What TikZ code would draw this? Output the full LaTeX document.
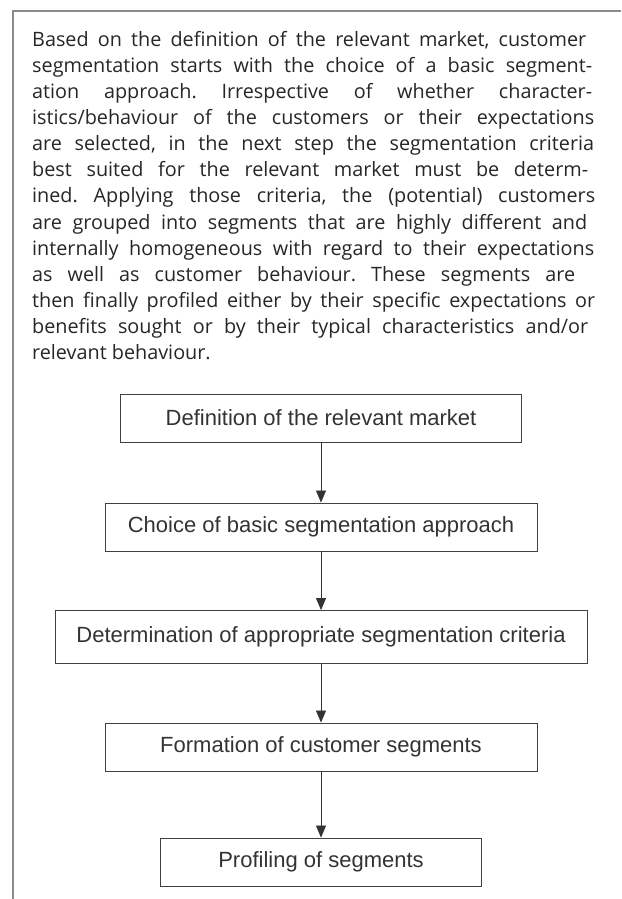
\documentclass[tikz,border=0pt]{standalone}
\usepackage{fontspec}
\setmainfont{Open Sans}
\newfontfamily\stagefont{Liberation Sans}
\usetikzlibrary{positioning,arrows.meta}
\newcommand\jline[2]{\makebox[#1pt][s]{#2}\\}

\begin{document}
\frenchspacing
\begin{tikzpicture}[x=1pt,y=-1pt,
  stage/.style={draw=black!75,line width=0.9pt,text=black!80,inner sep=0pt,
    minimum height=48pt,font=\stagefont\fontsize{22}{26}\selectfont},
  flow/.style={draw=black!80,line width=0.8pt,-{Triangle[length=12pt,width=10pt]}}]
\useasboundingbox (0,0) rectangle (621,899);
\draw[black!45,line width=1.3pt] (621,11) -- (13,11) -- (13,899);
% text above the chart
\node[anchor=north west,inner sep=0pt,align=left,text=black!85,
  font=\fontsize{19.8}{26.1}\selectfont] (intro) at (32,31) {%
\jline{554}{Based on the definition of the relevant market, customer}
\jline{560}{segmentation starts with the choice of a basic segment-}
\jline{560}{ation approach. Irrespective of whether character-}
\jline{562}{istics/behaviour of the customers or their expectations}
\jline{562}{are selected, in the next step the segmentation criteria}
\jline{556}{best suited for the relevant market must be determ-}
\jline{563}{ined. Applying those criteria, the (potential) customers}
\jline{555}{are grouped into segments that are highly different and}
\jline{562}{internally homogeneous with regard to their expectations}
\jline{543}{as well as customer behaviour. These segments are}
\jline{563}{then finally profiled either by their specific expectations or}
\jline{556}{benefits sought or by their typical characteristics and/or}
relevant behaviour.};
% the steps
\node[stage,minimum width=401pt] (market) at (321,418) {Definition of the relevant market};
\node[stage,minimum width=432pt] (approach) at (321,527) {Choice of basic segmentation approach};
\node[stage,minimum width=532pt,minimum height=53pt] (criteria) at (321,637) {Determination of appropriate segmentation criteria};
\node[stage,minimum width=432pt] (segments) at (321,747) {Formation of customer segments};
\node[stage,minimum width=321pt] (profiling) at (321,862) {Profiling of segments};
\draw[flow] (market) -- (approach);
\draw[flow] (approach) -- (criteria);
\draw[flow] (criteria) -- (segments);
\draw[flow] (segments) -- (profiling);
\end{tikzpicture}
\end{document}
